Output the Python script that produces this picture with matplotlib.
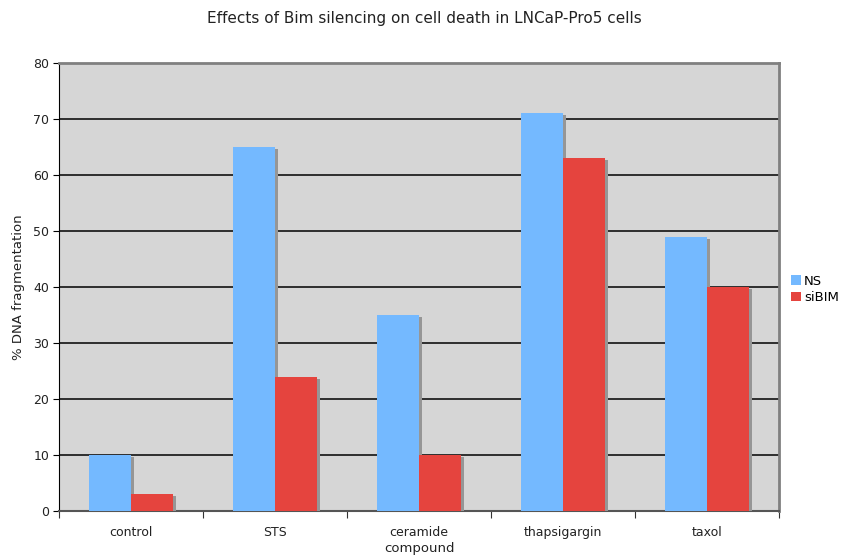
import matplotlib.pyplot as plt
import matplotlib.transforms as mtransforms
import numpy as np

categories = ["control", "STS", "ceramide", "thapsigargin", "taxol"]
ns_values = [10, 65, 35, 71, 49]
sibim_values = [3, 24, 10, 63, 40]

fig = plt.figure(figsize=(8.49, 5.57), dpi=100)
ax = fig.add_axes([59 / 849, 46 / 557, 720 / 849, 448 / 557])
ax.set_facecolor("#d6d6d6")

x = np.arange(len(categories))
w = 0.29
shadow = ax.transData + mtransforms.ScaledTranslation(3 / 100, -2 / 100, fig.dpi_scale_trans)

ax.bar(x - w / 2, ns_values, w, color="#969696", transform=shadow, zorder=2)
ax.bar(x - w / 2, ns_values, w, color="#74b9ff", label="NS", zorder=3)
ax.bar(x + w / 2, sibim_values, w, color="#969696", transform=shadow, zorder=4)
ax.bar(x + w / 2, sibim_values, w, color="#e5443e", label="siBIM", zorder=5)

ax.set_xlim(-0.5, len(categories) - 0.5)
ax.set_ylim(0, 80)
ax.set_yticks(range(0, 81, 10))
ax.yaxis.grid(True, color="black", linewidth=1.1, zorder=1)
ax.set_axisbelow(True)

ax.set_xticks(np.arange(-0.5, len(categories)), minor=False)
ax.set_xticklabels([])
ax.set_xticks(x, minor=True)
ax.set_xticklabels(categories, minor=True)
ax.tick_params(axis="x", which="major", length=5, direction="out", color="#333333")
ax.tick_params(axis="x", which="minor", length=0, pad=11, labelsize=9, labelcolor="#222222")
ax.tick_params(axis="y", length=4, pad=3, labelsize=9, labelcolor="#222222")

for side in ["top", "right"]:
    ax.spines[side].set_color("#808080")
    ax.spines[side].set_linewidth(2)
ax.spines["left"].set_color("black")
ax.spines["bottom"].set_color("#555555")
ax.spines["bottom"].set_linewidth(1.5)

ax.set_xlabel("compound", fontsize=9.5, color="#222222", labelpad=2)
ax.set_ylabel("% DNA fragmentation", fontsize=9.5, color="#222222", labelpad=6)
fig.suptitle("Effects of Bim silencing on cell death in LNCaP-Pro5 cells",
             x=424 / 849, y=1 - 18 / 557, va="center", fontsize=11, color="#222222")

ax.legend(loc="center left", bbox_to_anchor=(1.01, 0.495), frameon=False,
          fontsize=9.5, handlelength=0.7, handleheight=0.7, handletextpad=0.25,
          labelspacing=0.25, borderaxespad=0)

fig.savefig("out.png", dpi=100)
